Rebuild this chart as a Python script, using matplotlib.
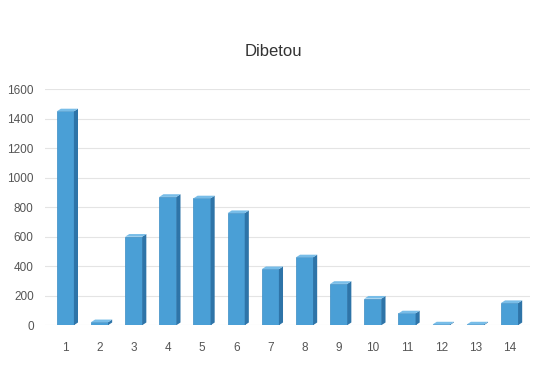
import matplotlib.pyplot as plt
from matplotlib.patches import Polygon
import numpy as np

plt.rcParams['font.family'] = ['Liberation Sans', 'DejaVu Sans']

categories = [str(i) for i in range(1, 15)]
values = [1450, 20, 600, 870, 860, 760, 380, 460, 280, 180, 80, 5, 5, 150]
yticks = [0, 200, 400, 600, 800, 1000, 1200, 1400, 1600]

fig = plt.figure(figsize=(5.47, 3.83), dpi=100)
ax = fig.add_axes([0.082, 0.151, 0.887, 0.616])

x = np.arange(1, len(values) + 1)
w = 0.5
dx, dy = 0.12, 18  # fake depth of the 3D columns

ax.bar(x, values, width=w, color='#4a9fd6', edgecolor='#3a8cc4', linewidth=0.5, zorder=3)
for xi, v in zip(x, values):
    r = xi + w / 2
    l = xi - w / 2
    side = Polygon([(r, 0), (r + dx, dy), (r + dx, v + dy), (r, v)],
                   closed=True, facecolor='#2e74a8', edgecolor='none', zorder=3)
    top = Polygon([(l, v), (l + dx, v + dy), (r + dx, v + dy), (r, v)],
                  closed=True, facecolor='#78bde8', edgecolor='none', zorder=3)
    ax.add_patch(side)
    ax.add_patch(top)

ax.set_xlim(0.4, 14.6)
ax.set_ylim(0, 1600)
ax.set_yticks(yticks)
ax.set_xticks(x)
ax.set_xticklabels(categories)
ax.yaxis.grid(True, color='#e4e4e4', linewidth=0.8, zorder=0)
ax.set_axisbelow(True)
for s in ax.spines.values():
    s.set_visible(False)
ax.tick_params(axis='both', length=0, colors='#555555', labelsize=8.5)
ax.tick_params(axis='x', pad=12)
ax.tick_params(axis='y', pad=8)

fig.suptitle('Dibetou', y=0.885, fontsize=12, color='#333333')

fig.savefig('out.png', dpi=100)
